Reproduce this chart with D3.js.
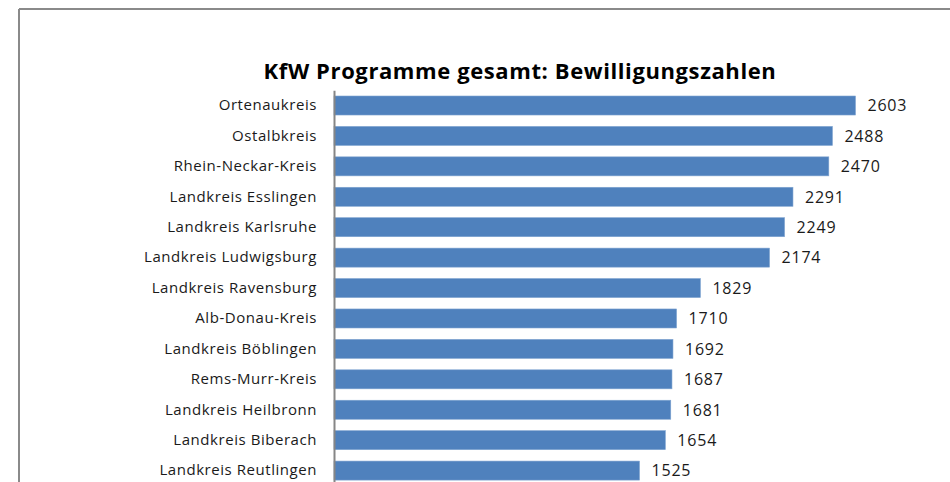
<!DOCTYPE html>
<html>
<head>
<meta charset="utf-8">
<script src="https://cdn.jsdelivr.net/npm/d3@7"></script>
<style>
  body { margin: 0; background: #fff; }
  svg { display: block; }
  .cat text { font-family: "Open Sans", sans-serif; font-size: 15px; letter-spacing: 0.55px; fill: #1a1a1a; }
</style>
</head>
<body>
<div id="chart"></div>
<script>
var categories = ["Ortenaukreis", "Ostalbkreis", "Rhein-Neckar-Kreis", "Landkreis Esslingen",
	"Landkreis Karlsruhe", "Landkreis Ludwigsburg", "Landkreis Ravensburg", "Alb-Donau-Kreis",
	"Landkreis Böblingen", "Rems-Murr-Kreis", "Landkreis Heilbronn", "Landkreis Biberach",
	"Landkreis Reutlingen"];
var values = [2603, 2488, 2470, 2291, 2249, 2174, 1829, 1710, 1692, 1687, 1681, 1654, 1525];
var title = "KfW Programme gesamt: Bewilligungszahlen";

var W = 950, H = 482;
var svg = d3.select("#chart").append("svg").attr("width", W).attr("height", H);

// frame of the chart (only top and left edge are in view)
svg.append("line").attr("x1", 19).attr("x2", W).attr("y1", 9).attr("y2", 9)
	.attr("stroke", "#8a8a8a").attr("stroke-width", 2);
svg.append("line").attr("x1", 19).attr("x2", 19).attr("y1", 9).attr("y2", H)
	.attr("stroke", "#8a8a8a").attr("stroke-width", 2);

svg.append("text").attr("x", 520).attr("y", 79).attr("text-anchor", "middle")
	.style("font-family", "'Open Sans', sans-serif").style("font-weight", "bold")
	.style("font-size", "22px").style("letter-spacing", "0.6px")
	.style("fill", "#000").text(title);

var x = d3.scaleLinear().domain([0, 3000]).range([334, 935]);
var y = d3.scaleBand().domain(categories).range([90.3, 485.8])
	.paddingInner(0.375).paddingOuter(0.1875);

svg.selectAll("rect.bar").data(values).enter().append("rect")
	.attr("class", "bar")
	.attr("x", x(0))
	.attr("y", function (d, i) { return y(categories[i]); })
	.attr("width", function (d) { return x(d) - x(0); })
	.attr("height", y.bandwidth())
	.attr("fill", "#4f81bd")
	.attr("stroke", "#7ea3d0").attr("stroke-width", 0.6);

svg.selectAll("text.val").data(values).enter().append("text")
	.attr("class", "val")
	.attr("x", function (d) { return x(d) + 12; })
	.attr("y", function (d, i) { return y(categories[i]) + y.bandwidth() / 2; })
	.attr("dy", "0.36em")
	.style("font-family", "'Open Sans', sans-serif").style("font-size", "16px")
	.style("letter-spacing", "0.8px")
	.style("fill", "#1a1a1a")
	.text(function (d) { return d; });

var yAxis = svg.append("g").attr("class", "cat")
	.attr("transform", "translate(" + x(0) + ",0)")
	.call(d3.axisLeft(y).tickSize(0).tickPadding(17));
yAxis.select(".domain").attr("stroke", "#868686").attr("stroke-width", 2);
</script>
</body>
</html>
